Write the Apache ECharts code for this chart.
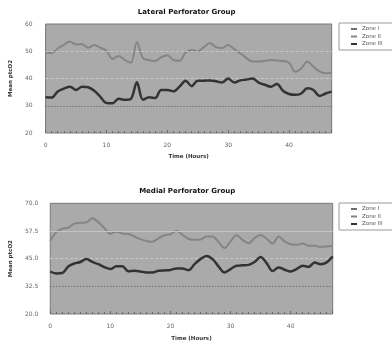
<!DOCTYPE html>
<html><head><meta charset="utf-8">
<script src="https://cdn.jsdelivr.net/npm/echarts@6/dist/echarts.min.js"></script>
<style>html,body{margin:0;padding:0;background:#fff}#c{width:392px;height:343px}</style>
</head><body><div id="c"></div>
<script>
const hours = [0,1,2,3,4,5,6,7,8,9,10,11,12,13,14,15,16,17,18,19,20,21,22,23,24,25,26,27,28,29,30,31,32,33,34,35,36,37,38,39,40,41,42,43,44,45,46,47];
const zoneNames = ['Zone I', 'Zone II', 'Zone III'];
const lateralZoneI = [];
const lateralZoneII = [49.5,49.3,51,52.3,53.6,52.5,52.6,51.3,52.3,51.3,50.2,47.2,48.3,46.8,45.8,53.3,47.5,46.8,46.4,47.8,48.5,46.8,46.5,49.5,50.5,50,51.5,53,51.5,51.2,52.3,50.8,49.2,47.5,46.2,46.2,46.4,46.8,46.6,46.4,45.8,42.5,43.7,46.2,44.3,42.6,41.9,42.1];
const lateralZoneIII = [33.1,33,35.2,36.3,37,35.8,37,36.8,35.5,33.3,31,30.9,32.6,32.2,32.5,38.6,32.2,33.1,32.8,35.8,35.8,35.3,37,39.2,37.2,39.2,39.2,39.3,39,38.5,40,38.5,39.3,39.6,40,38.5,37.7,37,38,35.5,34.3,34,34.5,36.4,35.8,33.6,34.5,35.2];
const medialZoneI = [];
const medialZoneII = [53,57,58.5,59,60.8,61.2,61.3,63.2,61.5,58.8,56.3,57.2,56.3,56.1,55,53.8,53,52.6,54.2,55.6,56,57.6,55.8,54,53.5,53.6,55,55,52.5,49.8,52.8,55.6,53.5,52,54.3,55.7,54,51.8,55,52.8,51.5,51.3,51.8,50.8,50.8,50.3,50.5,50.8];
const medialZoneIII = [39.2,38.3,38.5,41.5,42.8,43.5,44.8,43.5,42.5,41.2,40.3,41.6,41.6,39.3,39.5,39.2,38.8,38.8,39.5,39.7,39.9,40.6,40.5,39.8,42.5,44.8,46.2,44.8,41.5,38.8,40.3,41.8,42,42.2,43.5,45.8,43,39.4,41,40,39.2,40.3,41.8,41.3,43.3,42.5,43.3,46];
const xTickLabels = [0,10,20,30,40];
const lateralYTicks = [20,30,40,50,60];
const medialYTicks = [20,32.5,45,57.5,70];

const FONT = 'DejaVu Sans';
const pairs = arr => arr.map((v, i) => [hours[i], v]);
const colors = ['#6e6e6e', '#858585', '#333333'];
const widths = [1.5, 2, 2.5];

function gridLines(ticks, styles) {
  return {
    silent: true, symbol: 'none', label: {show: false}, animation: false,
    data: ticks.slice(1, -1).map((t, i) => ({yAxis: t, lineStyle: styles[i]}))
  };
}

const chart = echarts.init(document.getElementById('c'), null, {renderer: 'canvas'});
const grids = [
  {left: 41.7, right: 60.3, top: 24, height: 109},
  {left: 41.7, right: 59.3, top: 203.3, height: 111.7}
];
const xAxes = grids.map((g, i) => ({
  type: 'value', gridIndex: i, min: 0, max: hours[hours.length - 1], interval: 10,
  name: 'Time (Hours)', nameLocation: 'middle', nameGap: i === 0 ? 21 : 22,
  nameTextStyle: {fontFamily: FONT, fontSize: 5.5, fontWeight: 'bold', color: '#333'},
  axisLine: {show: false},
  axisTick: {show: true, inside: true, length: 3, lineStyle: {color: '#6a6a6a'}},
  minorTick: {show: true, splitNumber: 10, length: 2, lineStyle: {color: '#6a6a6a'}},
  axisLabel: {fontFamily: FONT, fontSize: 6, color: '#666', margin: 9, customValues: xTickLabels},
  splitLine: {show: false}
}));
const yAxes = [
  {type: 'value', gridIndex: 0, min: 20, max: 60, interval: 10,
   axisLabel: {fontFamily: FONT, fontSize: 6, color: '#666', margin: 13, customValues: lateralYTicks}},
  {type: 'value', gridIndex: 1, min: 20, max: 70,
   axisLabel: {fontFamily: FONT, fontSize: 6, color: '#666', margin: 12, customValues: medialYTicks,
     formatter: v => Number(v).toFixed(1)}}
].map((a, i) => Object.assign({
  name: 'Mean ptcO2', nameLocation: 'middle', nameGap: i === 0 ? 27 : 34,
  nameTextStyle: {fontFamily: FONT, fontSize: 5.5, fontWeight: 'bold', color: '#333'},
  axisLine: {show: false}, axisTick: {show: false}, splitLine: {show: false}
}, a));

const sets = [[lateralZoneI, lateralZoneII, lateralZoneIII], [medialZoneI, medialZoneII, medialZoneIII]];
const lineStyles = [
  [{color: '#5a5a5a', type: [1, 2], width: 1}, {color: '#c8c8c8', type: [3, 2], width: 1}, {color: '#c8c8c8', type: [3, 2], width: 1}],
  [{color: '#5a5a5a', type: [1, 2], width: 1}, {color: '#c8c8c8', type: [3, 2], width: 1}, {color: '#c4c4c4', type: 'solid', width: 1}]
];
const series = [];
sets.forEach((set, gi) => {
  set.forEach((arr, si) => {
    const s = {
      name: zoneNames[si], type: 'line', xAxisIndex: gi, yAxisIndex: gi,
      data: pairs(arr), smooth: 0.35, showSymbol: false, symbol: 'none',
      lineStyle: {color: colors[si], width: widths[si]}, itemStyle: {color: colors[si]},
      z: 3 + si, animation: false
    };
    if (si === 0) {
      const yt = gi === 0 ? lateralYTicks : medialYTicks;
      s.markLine = gridLines(yt, lineStyles[gi]);
      s.z = 2;
    }
    series.push(s);
  });
});

const legendBase = {
  left: 339, orient: 'vertical', padding: [3, 40, 3, 12], itemGap: 1.5,
  itemWidth: 6, itemHeight: 2, icon: 'rect', borderColor: '#9a9a9a', borderWidth: 1,
  backgroundColor: '#fff', selectedMode: false,
  textStyle: {fontFamily: FONT, fontSize: 5.5, color: '#555'},
  data: zoneNames
};

chart.setOption({
  animation: false,
  backgroundColor: '#fff',
  grid: grids.map(g => Object.assign({show: true, backgroundColor: '#aaaaaa', borderColor: '#7a7a7a', borderWidth: 1}, g)),
  xAxis: xAxes,
  yAxis: yAxes,
  legend: [Object.assign({top: 23}, legendBase), Object.assign({top: 203}, legendBase)],
  graphic: [
    {type: 'text', x: 186.7, y: 12, style: {text: 'Lateral Perforator Group', textAlign: 'center', textVerticalAlign: 'middle', font: 'bold 7px "DejaVu Sans"', fill: '#111'}},
    {type: 'text', x: 187.2, y: 191, style: {text: 'Medial Perforator Group', textAlign: 'center', textVerticalAlign: 'middle', font: 'bold 7px "DejaVu Sans"', fill: '#111'}}
  ],
  series: series
});
</script></body></html>
